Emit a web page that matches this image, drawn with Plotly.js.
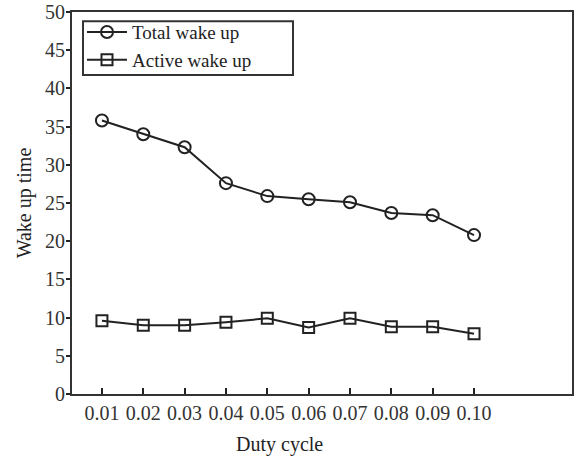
<!DOCTYPE html>
<html>
<head>
<meta charset="utf-8">
<script src="https://cdn.plot.ly/plotly-3.0.1.min.js"></script>
<style>html,body{margin:0;padding:0;background:#fff;}#chart{width:576px;height:459px;}</style>
</head>
<body>
<div id="chart"></div>
<script>
const dutyCycle = [0.01, 0.02, 0.03, 0.04, 0.05, 0.06, 0.07, 0.08, 0.09, 0.10];
const tickLabels = ["0.01", "0.02", "0.03", "0.04", "0.05", "0.06", "0.07", "0.08", "0.09", "0.10"];
const totalWakeUp = [35.8, 34.0, 32.3, 27.6, 25.9, 25.5, 25.1, 23.7, 23.4, 20.8];
const activeWakeUp = [9.6, 9.0, 9.0, 9.4, 9.9, 8.7, 9.9, 8.8, 8.8, 7.9];

const ink = '#222';
const fontFam = '"Liberation Serif", "Times New Roman", serif';

const traces = [
  {
    x: dutyCycle, y: totalWakeUp, name: 'Total wake up', type: 'scatter', mode: 'lines+markers',
    line: {color: ink, width: 2},
    marker: {symbol: 'circle-open', size: 12, color: ink, line: {width: 2, color: ink}}
  },
  {
    x: dutyCycle, y: activeWakeUp, name: 'Active wake up', type: 'scatter', mode: 'lines+markers',
    line: {color: ink, width: 2},
    marker: {symbol: 'square-open', size: 11, color: ink, line: {width: 2, color: ink}}
  }
];

const layout = {
  width: 576, height: 459,
  margin: {l: 72, r: 4, t: 12, b: 65, pad: 0},
  paper_bgcolor: '#fff', plot_bgcolor: '#fff',
  font: {family: fontFam, size: 20, color: ink},
  showlegend: true,
  legend: {
    x: 0.02, y: 0.997, xanchor: 'left', yanchor: 'top',
    bgcolor: 'rgba(0,0,0,0)', borderwidth: 0,
    font: {family: fontFam, size: 19, color: ink},
    tracegroupgap: 0, itemwidth: 40
  },
  shapes: [
    {type: 'rect', xref: 'paper', yref: 'paper', x0: 0.022, x1: 0.442, y0: 0.835, y1: 0.976,
     line: {color: '#333', width: 2}, fillcolor: 'rgba(0,0,0,0)', layer: 'below'}
  ],
  annotations: [
    {text: 'Duty cycle', xref: 'paper', yref: 'paper', x: 0.414, y: -0.133,
     xanchor: 'center', yanchor: 'middle', showarrow: false,
     font: {family: fontFam, size: 20, color: ink}}
  ],
  xaxis: {
    range: [0.00276, 0.1237],
    tickmode: 'array', tickvals: dutyCycle, ticktext: tickLabels,
    ticks: 'inside', ticklen: 6, tickwidth: 2, tickcolor: ink,
    showline: true, linecolor: '#333', linewidth: 2, mirror: true,
    showgrid: false, zeroline: false,
    tickfont: {family: fontFam, size: 20, color: '#333'}
  },
  yaxis: {
    range: [0, 50], tickmode: 'linear', tick0: 0, dtick: 5,
    ticks: 'outside', ticklen: 4, tickwidth: 2, tickcolor: ink,
    showline: true, linecolor: '#333', linewidth: 2, mirror: true,
    showgrid: false, zeroline: false,
    ticklabelstandoff: -3,
    tickfont: {family: fontFam, size: 20, color: '#333'},
    title: {text: 'Wake up time', font: {family: fontFam, size: 20, color: ink}, standoff: 8}
  }
};

Plotly.newPlot('chart', traces, layout, {staticPlot: true, displayModeBar: false});
</script>
</body>
</html>
